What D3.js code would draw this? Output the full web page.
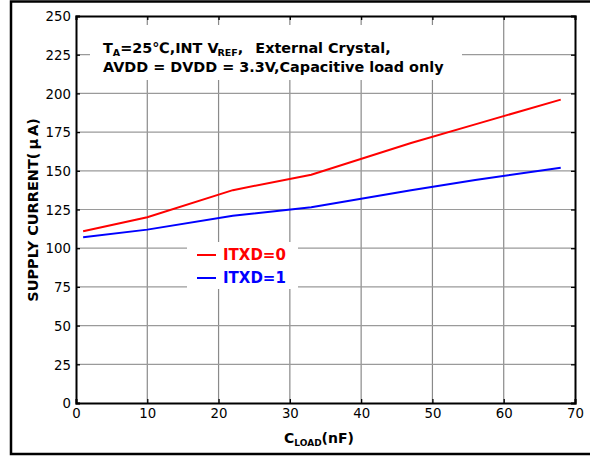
<!DOCTYPE html>
<html>
<head>
<meta charset="utf-8">
<script src="https://cdn.jsdelivr.net/npm/d3@7"></script>
<style>
  html, body { margin: 0; padding: 0; background: #fff; }
  svg { display: block; }
  text { font-family: "DejaVu Sans", Verdana, sans-serif; }
</style>
</head>
<body>
<svg id="chart" width="590" height="456"></svg>
<script>
// Supply current vs. capacitive load
const loadNF = [1, 10, 22, 33, 47, 56, 68];
const itxd0 = [111, 120, 137.5, 147.5, 168, 180, 196];
const itxd1 = [107, 112, 121, 126.5, 137.5, 144, 152];
const xTicks = [0, 10, 20, 30, 40, 50, 60, 70];
const yTicks = [0, 25, 50, 75, 100, 125, 150, 175, 200, 225, 250];
const seriesNames = ["ITXD=0", "ITXD=1"];
const seriesColors = ["#ff0000", "#0000ff"];

const svg = d3.select("#chart");
const m = { left: 76, top: 16, right: 575, bottom: 403 };

const x = d3.scaleLinear().domain([0, 70]).range([m.left, m.right]);
const y = d3.scaleLinear().domain([0, 250]).range([m.bottom, m.top]);

// outer frame
svg.append("rect")
  .attr("x", 11).attr("y", 1.5).attr("width", 640).attr("height", 452.5)
  .attr("fill", "none").attr("stroke", "#000").attr("stroke-width", 2.5);

// grid
const grid = svg.append("g");
grid.selectAll("line.v").data(xTicks.slice(1, -1)).join("line")
  .attr("x1", d => x(d)).attr("x2", d => x(d))
  .attr("y1", m.top).attr("y2", m.bottom)
  .attr("stroke", "#8a8a8a").attr("stroke-width", 1.2);
grid.selectAll("line.h").data(yTicks.slice(1, -1)).join("line")
  .attr("x1", m.left).attr("x2", m.right)
  .attr("y1", d => y(d)).attr("y2", d => y(d))
  .attr("stroke", "#9a9a9a").attr("stroke-width", 1.2);

// white boxes behind the annotation and the legend
svg.append("rect").attr("x", 90).attr("y", 25).attr("width", 372).attr("height", 55).attr("fill", "#fff");
svg.append("rect").attr("x", 187).attr("y", 242).attr("width", 111).attr("height", 47).attr("fill", "#fff");

// axes with inward ticks on all four sides
const fmt = d3.format("d");
const axLeft = svg.append("g").attr("transform", `translate(${m.left},0)`)
  .call(d3.axisLeft(y).tickValues(yTicks).tickSize(-4).tickPadding(5).tickFormat(fmt));
const axRight = svg.append("g").attr("transform", `translate(${m.right},0)`)
  .call(d3.axisRight(y).tickValues(yTicks).tickSize(-4).tickFormat(""));
const axBottom = svg.append("g").attr("transform", `translate(0,${m.bottom})`)
  .call(d3.axisBottom(x).tickValues(xTicks).tickSize(-4).tickPadding(6).tickFormat(fmt));
const axTop = svg.append("g").attr("transform", `translate(0,${m.top})`)
  .call(d3.axisTop(x).tickValues(xTicks).tickSize(-4).tickFormat(""));

[axLeft, axRight, axBottom, axTop].forEach(g => {
  g.select(".domain").attr("stroke", "#000").attr("stroke-width", 2);
  g.selectAll(".tick line").attr("stroke", "#000").attr("stroke-width", 1.3);
  g.selectAll(".tick text")
    .attr("fill", "#000")
    .style("font-family", "'DejaVu Sans', Verdana, sans-serif")
    .style("font-size", "13.3px");
});
axLeft.selectAll(".tick text").attr("dy", "0.36em");
axBottom.selectAll(".tick text").attr("dy", "0.71em");

// series lines
const line = d3.line().x((d, i) => x(loadNF[i])).y(d => y(d));
[itxd0, itxd1].forEach((s, k) => {
  svg.append("path").datum(s)
    .attr("d", line)
    .attr("fill", "none")
    .attr("stroke", seriesColors[k])
    .attr("stroke-width", 2);
});

// legend
const leg = svg.append("g");
seriesNames.forEach((name, k) => {
  const ly = 255 + k * 23;
  leg.append("line")
    .attr("x1", 197).attr("x2", 216).attr("y1", ly).attr("y2", ly)
    .attr("stroke", seriesColors[k]).attr("stroke-width", 2);
  leg.append("text")
    .attr("x", 223).attr("y", ly + 5)
    .attr("fill", seriesColors[k])
    .style("font-weight", "bold").style("font-size", "15px")
    .text(name);
});

// conditions annotation
const note = svg.append("text")
  .style("font-weight", "bold").style("font-size", "14.4px").attr("fill", "#000");
const l1 = note.append("tspan").attr("x", 103).attr("y", 53);
l1.append("tspan").text("T");
l1.append("tspan").attr("dy", 3).style("font-size", "9.5px").text("A");
l1.append("tspan").attr("dy", -3).text("=25\u2103,INT V");
l1.append("tspan").attr("dy", 3).attr("dx", -1).style("font-size", "9.5px").text("REF");
l1.append("tspan").attr("dy", -3).text(",");
l1.append("tspan").attr("dx", 12).text("External Crystal,");
note.append("tspan").attr("x", 103).attr("y", 72)
  .text("AVDD = DVDD = 3.3V,Capacitive load only");

// axis titles
const xl = svg.append("text")
  .attr("x", 319).attr("y", 443)
  .attr("text-anchor", "middle")
  .style("font-weight", "bold").style("font-size", "14px");
xl.append("tspan").text("C");
xl.append("tspan").attr("dy", 3).style("font-size", "9px").text("LOAD");
xl.append("tspan").attr("dy", -3).text("(nF)");

svg.append("text")
  .attr("transform", "translate(38,210) rotate(-90)")
  .attr("text-anchor", "middle")
  .style("font-weight", "bold").style("font-size", "14.5px")
  .text("SUPPLY CURRENT(\u2009\u03bc\u2009A)");
</script>
</body>
</html>
